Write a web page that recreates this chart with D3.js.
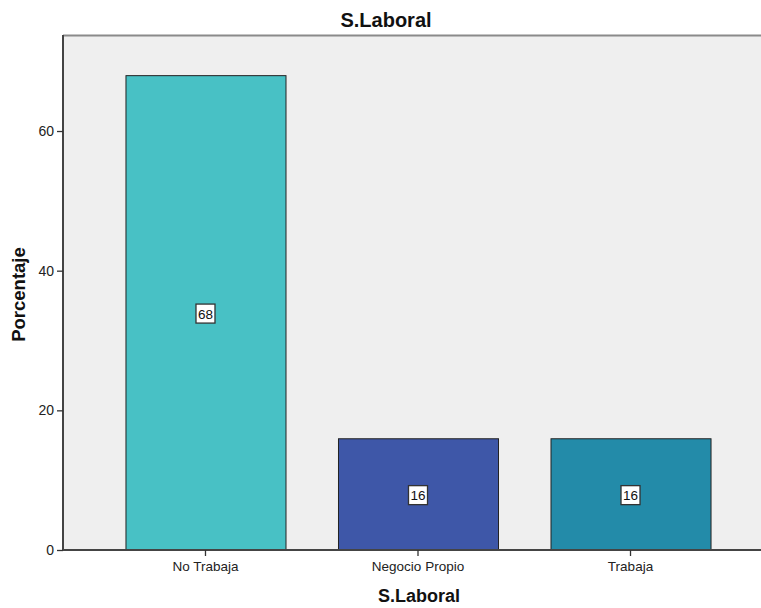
<!DOCTYPE html>
<html><head><meta charset="utf-8">
<script src="https://cdn.jsdelivr.net/npm/d3@7"></script>
<style>body{margin:0;background:#fff;} svg{display:block;font-family:"Liberation Sans",Arial,sans-serif;}</style>
</head><body>
<svg id="chart" width="761" height="608"></svg>
<script>
const categories = ["No Trabaja", "Negocio Propio", "Trabaja"];
const values = [68, 16, 16];
const barColors = ["#48c1c5", "#3e57a8", "#238ba9"];
const yTicks = [0, 20, 40, 60];
const chartTitle = "S.Laboral";
const xTitle = "S.Laboral";
const yTitle = "Porcentaje";

const svg = d3.select("#chart");
const mLeft = 63, mRight = 773, mTop = 35, mBottom = 550;

const x = d3.scaleBand().domain(categories).range([mLeft, mRight]).paddingInner(0.247).paddingOuter(0.294);
const y = d3.scaleLinear().domain([0, 73.75]).range([mBottom, mTop]);

svg.append("rect").attr("x", mLeft).attr("y", mTop).attr("width", 761 - mLeft).attr("height", mBottom - mTop).attr("fill", "#efefef");
svg.append("line").attr("x1", mLeft).attr("x2", 761).attr("y1", mTop + 0.5).attr("y2", mTop + 0.5).attr("stroke", "#8a8a8a").attr("stroke-width", 2);

svg.selectAll("rect.bar").data(categories).enter().append("rect").attr("class", "bar")
  .attr("x", d => x(d) + 0.5).attr("y", (d, i) => y(values[i]) + 0.5)
  .attr("width", x.bandwidth()).attr("height", (d, i) => y(0) - y(values[i]))
  .attr("fill", (d, i) => barColors[i]).attr("stroke", "#222").attr("stroke-width", 1);

categories.forEach((c, i) => {
  const cx = x(c) + x.bandwidth() / 2;
  const cy = (y(values[i]) + y(0)) / 2 + 1;
  const g = svg.append("g");
  g.append("rect").attr("x", cx - 9.5).attr("y", cy - 9.5).attr("width", 19).attr("height", 19)
    .attr("fill", "#fff").attr("stroke", "#333").attr("stroke-width", 1.3);
  g.append("text").attr("x", cx).attr("y", cy + 5).attr("text-anchor", "middle")
    .attr("font-size", 13.5).attr("fill", "#111").text(values[i]);
});

const yAxis = d3.axisLeft(y).tickValues(yTicks).tickSize(6).tickPadding(3);
const gy = svg.append("g").attr("transform", `translate(${mLeft},0)`).call(yAxis);
gy.select(".domain").attr("stroke", "#444").attr("stroke-width", 2).attr("d", `M0,${mTop}V${mBottom}`);
gy.selectAll(".tick line").attr("stroke", "#333").attr("stroke-width", 1.3);
gy.selectAll(".tick text").attr("font-size", 14).attr("fill", "#222").attr("font-family", "Liberation Sans, Arial, sans-serif");

const xAxis = d3.axisBottom(x).tickSize(6).tickPadding(5);
const gx = svg.append("g").attr("transform", `translate(0,${mBottom})`).call(xAxis);
gx.select(".domain").attr("stroke", "#444").attr("stroke-width", 2).attr("d", `M${mLeft},0H761`);
gx.selectAll(".tick line").attr("stroke", "#333").attr("stroke-width", 1.3);
gx.selectAll(".tick text").attr("font-size", 13.5).attr("fill", "#222").attr("font-family", "Liberation Sans, Arial, sans-serif");

svg.append("text").attr("x", 386).attr("y", 27).attr("text-anchor", "middle")
  .attr("font-size", 20).attr("font-weight", "bold").attr("fill", "#111").text(chartTitle);
svg.append("text").attr("x", 419).attr("y", 602).attr("text-anchor", "middle")
  .attr("font-size", 18).attr("font-weight", "bold").attr("fill", "#111").text(xTitle);
svg.append("text").attr("transform", `translate(25,294.5) rotate(-90)`).attr("text-anchor", "middle")
  .attr("font-size", 18.5).attr("font-weight", "bold").attr("fill", "#111").text(yTitle);
</script>
</body></html>
